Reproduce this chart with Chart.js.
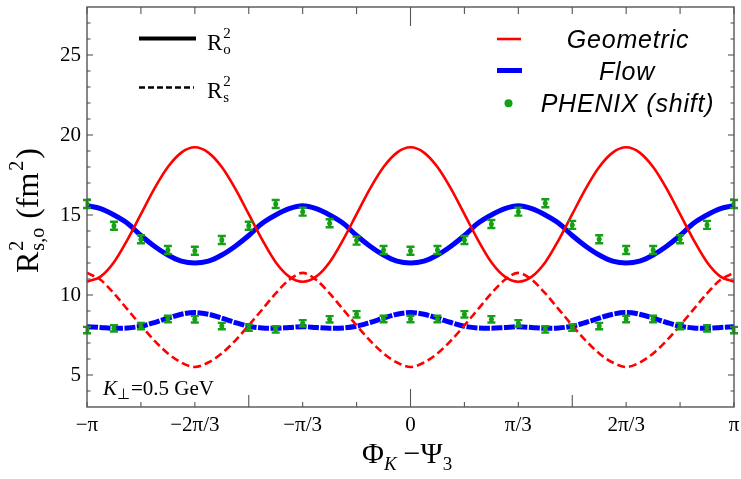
<!DOCTYPE html>
<html><head><meta charset="utf-8">
<script src="https://cdn.jsdelivr.net/npm/chart.js@4/dist/chart.umd.min.js"></script>
<style>html,body{margin:0;padding:0;background:#fff;}canvas{display:block;}</style>
</head><body>
<canvas id="c" width="741" height="479"></canvas>
<script>
// x values in units of pi
const phiTheory = [-1,-0.9583,-0.9167,-0.875,-0.8333,-0.7917,-0.75,-0.7083,-0.6667,-0.625,-0.5833,-0.5417,-0.5,-0.4583,-0.4167,-0.375,-0.3333,-0.2917,-0.25,-0.2083,-0.1667,-0.125,-0.0833,-0.0417,0,0.0417,0.0833,0.125,0.1667,0.2083,0.25,0.2917,0.3333,0.375,0.4167,0.4583,0.5,0.5417,0.5833,0.625,0.6667,0.7083,0.75,0.7917,0.8333,0.875,0.9167,0.9583,1];
const geoRo = [10.83,11.15,12.05,13.45,15.05,16.65,18.0,18.9,
  19.23,18.9,18.0,16.65,15.05,13.45,12.05,11.15,10.83,11.15,12.05,13.45,15.05,16.65,18.0,18.9,
  19.23,18.9,18.0,16.65,15.05,13.45,12.05,11.15,10.83,11.15,12.05,13.45,15.05,16.65,18.0,18.9,
  19.23,18.9,18.0,16.65,15.05,13.45,12.05,11.15,10.83];
const geoRs = [11.38,10.95,10.1,9.1,8.1,7.15,6.35,5.78,
  5.5,5.78,6.35,7.15,8.1,9.1,10.1,10.95,11.38,10.95,10.1,9.1,8.1,7.15,6.35,5.78,
  5.5,5.78,6.35,7.15,8.1,9.1,10.1,10.95,11.38,10.95,10.1,9.1,8.1,7.15,6.35,5.78,
  5.5,5.78,6.35,7.15,8.1,9.1,10.1,10.95,11.38];
const flowRo = [15.58,15.4,15.0,14.48,13.72,13.05,12.5,12.12,
  12.0,12.12,12.5,13.05,13.72,14.48,15.0,15.4,15.58,15.4,15.0,14.48,13.72,13.05,12.5,12.12,
  12.0,12.12,12.5,13.05,13.72,14.48,15.0,15.4,15.58,15.4,15.0,14.48,13.72,13.05,12.5,12.12,
  12.0,12.12,12.5,13.05,13.72,14.48,15.0,15.4,15.58];
const flowRs = [8.02,7.97,7.92,7.94,8.05,8.28,8.55,8.8,
  8.9,8.8,8.55,8.28,8.05,7.94,7.92,7.97,8.02,7.97,7.92,7.94,8.05,8.28,8.55,8.8,
  8.9,8.8,8.55,8.28,8.05,7.94,7.92,7.97,8.02,7.97,7.92,7.94,8.05,8.28,8.55,8.8,
  8.9,8.8,8.55,8.28,8.05,7.94,7.92,7.97,8.02];
const phiData = [-1,-0.9167,-0.8333,-0.75,-0.6667,-0.5833,-0.5,-0.4167,-0.3333,-0.25,-0.1667,-0.0833,0,0.0833,0.1667,0.25,0.3333,0.4167,0.5,0.5833,0.6667,0.75,0.8333,0.9167,1];
const phenixRo = [15.69,14.33,13.48,12.81,12.77,13.44,14.33,15.69,15.21,14.48,13.4,12.81,12.77,12.81,13.44,14.44,15.21,15.73,14.38,13.48,12.81,12.81,13.48,14.38,15.69];
const phenixRoErr = [0.25,0.25,0.25,0.25,0.25,0.25,0.25,0.25,0.25,0.25,0.25,0.25,0.25,0.25,0.25,0.25,0.25,0.25,0.25,0.25,0.25,0.25,0.25,0.25,0.25];
const phenixRs = [7.81,7.92,8.06,8.5,8.48,8.06,7.96,7.85,8.23,8.48,8.79,8.5,8.5,8.5,8.79,8.48,8.23,7.85,7.96,8.06,8.5,8.5,8.06,7.92,7.81];
const phenixRsErr = [0.2,0.2,0.2,0.2,0.2,0.2,0.2,0.2,0.2,0.2,0.2,0.2,0.2,0.2,0.2,0.2,0.2,0.2,0.2,0.2,0.2,0.2,0.2,0.2,0.2];
const xTickValues = [-1,-0.66667,-0.33333,0,0.33333,0.66667,1];
const xTickLabels = ['\u2212\u03C0','\u22122\u03C0/3','\u2212\u03C0/3','0','\u03C0/3','2\u03C0/3','\u03C0'];
const xMinorTicks = [-0.83333,-0.5,-0.16667,0.16667,0.5,0.83333];
const yTickValues = [5,10,15,20,25];
const yTickLabels = ['5','10','15','20','25'];
const yMinorTicks = [4,6,7,8,9,11,12,13,14,16,17,18,19,21,22,23,24,26,27];

const RED = '#ff0000', BLUE = '#0000ff', GREEN = '#15a015';
const pts = (xs, ys) => xs.map((x, i) => ({x, y: ys[i]}));

const serif = "'Liberation Serif', 'Times New Roman', serif";
const sans = "'Liberation Sans', Arial, sans-serif";

const frameTicks = {
  id: 'frameTicks',
  afterDraw(chart) {
    const {ctx, chartArea: a, scales: {x, y}} = chart;
    ctx.save();
    ctx.strokeStyle = '#555';
    ctx.lineWidth = 1.4;
    ctx.strokeRect(a.left, a.top, a.right - a.left, a.bottom - a.top);
    ctx.lineWidth = 1.1;
    const vt = (v, lenB, lenT) => {
      const px = x.getPixelForValue(v);
      ctx.beginPath(); ctx.moveTo(px, a.bottom); ctx.lineTo(px, a.bottom - lenB); ctx.stroke();
      ctx.beginPath(); ctx.moveTo(px, a.top); ctx.lineTo(px, a.top + lenT); ctx.stroke();
    };
    xTickValues.forEach(v => vt(v, Math.abs(v) < 1e-6 ? 18 : 5, Math.abs(v) < 1e-6 ? 19 : 7));
    xMinorTicks.forEach(v => vt(v, Math.abs(Math.abs(v) - 0.5) < 1e-6 ? 12 : 5, 7));
    const ht = (v, len) => {
      const py = y.getPixelForValue(v);
      ctx.beginPath(); ctx.moveTo(a.left, py); ctx.lineTo(a.left + len, py); ctx.stroke();
      ctx.beginPath(); ctx.moveTo(a.right, py); ctx.lineTo(a.right - len, py); ctx.stroke();
    };
    yTickValues.forEach(v => ht(v, 6));
    yMinorTicks.forEach(v => ht(v, 3.5));
    ctx.restore();
  }
};

const errorBars = {
  id: 'errorBars',
  afterDatasetsDraw(chart) {
    const {ctx, scales: {x, y}} = chart;
    ctx.save();
    ctx.strokeStyle = GREEN;
    chart.data.datasets.forEach(ds => {
      if (!ds.errors) return;
      ds.data.forEach((p, i) => {
        const px = x.getPixelForValue(p.x);
        const t = y.getPixelForValue(p.y + ds.errors[i]);
        const b = y.getPixelForValue(p.y - ds.errors[i]);
        ctx.lineWidth = 3;
        ctx.beginPath(); ctx.moveTo(px, t); ctx.lineTo(px, b); ctx.stroke();
        ctx.lineWidth = 2.4;
        ctx.beginPath(); ctx.moveTo(px - 4, t); ctx.lineTo(px + 4, t);
        ctx.moveTo(px - 4, b); ctx.lineTo(px + 4, b); ctx.stroke();
      });
    });
    ctx.restore();
  }
};

function rLabel(ctx, x, yb, sub) {
  ctx.font = '23px ' + serif;
  ctx.fillText('R', x, yb);
  const w = ctx.measureText('R').width;
  ctx.font = '15px ' + serif;
  ctx.fillText('2', x + w + 1, yb - 12);
  ctx.fillText(sub, x + w + 1, yb + 4);
}

const annotations = {
  id: 'annotations',
  afterDraw(chart) {
    const {ctx} = chart;
    ctx.save();
    ctx.fillStyle = '#000';
    ctx.textBaseline = 'alphabetic';
    ctx.textAlign = 'left';
    // left legend
    ctx.strokeStyle = '#000';
    ctx.lineWidth = 4;
    ctx.beginPath(); ctx.moveTo(139, 38.5); ctx.lineTo(196, 38.5); ctx.stroke();
    ctx.lineWidth = 2.5;
    ctx.setLineDash([6, 3]);
    ctx.beginPath(); ctx.moveTo(139, 87.5); ctx.lineTo(194, 87.5); ctx.stroke();
    ctx.setLineDash([]);
    rLabel(ctx, 207, 50, 'o');
    rLabel(ctx, 207, 98, 's');
    // right legend
    ctx.lineWidth = 2.6; ctx.strokeStyle = RED;
    ctx.beginPath(); ctx.moveTo(497, 39); ctx.lineTo(521, 39); ctx.stroke();
    ctx.lineWidth = 5; ctx.strokeStyle = BLUE;
    ctx.beginPath(); ctx.moveTo(497, 70.5); ctx.lineTo(522, 70.5); ctx.stroke();
    ctx.fillStyle = GREEN;
    ctx.beginPath(); ctx.arc(508.5, 103.3, 4, 0, Math.PI * 2); ctx.fill();
    ctx.fillStyle = '#000';
    ctx.textAlign = 'center';
    ctx.font = 'italic 25px ' + sans;
    ctx.letterSpacing = '0.8px';
    ctx.fillText('Geometric', 628, 48);
    ctx.fillText('Flow', 627, 80);
    ctx.fillText('PHENIX (shift)', 627.5, 112);
    ctx.letterSpacing = '0px';
    // K annotation
    ctx.textAlign = 'left';
    ctx.font = 'italic 21px ' + serif;
    ctx.fillText('K', 103, 395);
    let xx = 103 + ctx.measureText('K').width;
    ctx.font = '15px ' + serif;
    ctx.fillText('\u22A5', xx, 399);
    xx += ctx.measureText('\u22A5').width + 1;
    ctx.font = '21px ' + serif;
    ctx.fillText('=0.5 GeV', xx, 395);
    // x title
    ctx.font = '30px ' + serif;
    let tx = 362;
    ctx.fillText('\u03A6', tx, 463); tx += ctx.measureText('\u03A6').width;
    ctx.font = 'italic 19px ' + serif;
    ctx.fillText('K', tx, 470); tx += ctx.measureText('K').width + 7;
    ctx.font = '30px ' + serif;
    ctx.fillText('\u2212\u03A8', tx, 463); tx += ctx.measureText('\u2212\u03A8').width;
    ctx.font = '19px ' + serif;
    ctx.fillText('3', tx, 470);
    // y title rotated
    ctx.translate(38, 273);
    ctx.rotate(-Math.PI / 2);
    ctx.font = '32px ' + serif;
    let ty = 0;
    ctx.fillText('R', ty, 0); ty += ctx.measureText('R').width + 1;
    ctx.font = '20px ' + serif;
    ctx.fillText('2', ty, -15);
    ctx.fillText('s,o', ty, 6);
    ty += ctx.measureText('s,o').width + 9;
    ctx.font = '32px ' + serif;
    ctx.fillText('(fm', ty, 0); ty += ctx.measureText('(fm').width + 2;
    ctx.font = '20px ' + serif;
    ctx.fillText('2', ty, -15); ty += ctx.measureText('2').width + 2;
    ctx.font = '32px ' + serif;
    ctx.fillText(')', ty, 0);
    ctx.restore();
  }
};

new Chart(document.getElementById('c'), {
  type: 'line',
  data: {
    datasets: [
      {label: 'PHENIX Ro', data: pts(phiData, phenixRo), errors: phenixRoErr, showLine: false,
       pointRadius: 2.5, pointBackgroundColor: GREEN, pointBorderWidth: 0, order: 0},
      {label: 'PHENIX Rs', data: pts(phiData, phenixRs), errors: phenixRsErr, showLine: false,
       pointRadius: 2.5, pointBackgroundColor: GREEN, pointBorderWidth: 0, order: 0},
      {label: 'Geometric Ro', data: pts(phiTheory, geoRo), borderColor: RED, borderWidth: 2.6,
       pointRadius: 0, cubicInterpolationMode: 'monotone', order: 1},
      {label: 'Geometric Rs', data: pts(phiTheory, geoRs), borderColor: RED, borderWidth: 2.6,
       borderDash: [8, 4], pointRadius: 0, cubicInterpolationMode: 'monotone', order: 1},
      {label: 'Flow Ro', data: pts(phiTheory, flowRo), borderColor: BLUE, borderWidth: 5,
       pointRadius: 0, cubicInterpolationMode: 'monotone', order: 2},
      {label: 'Flow Rs', data: pts(phiTheory, flowRs), borderColor: BLUE, borderWidth: 5,
       borderDash: [11, 1.5], pointRadius: 0, cubicInterpolationMode: 'monotone', order: 2}
    ]
  },
  options: {
    responsive: false,
    animation: false,
    devicePixelRatio: 1,
    layout: {padding: {left: 60, right: 7, top: 7, bottom: 40}},
    plugins: {legend: {display: false}, tooltip: {enabled: false}},
    scales: {
      x: {
        type: 'linear', min: -1, max: 1,
        afterBuildTicks: s => { s.ticks = xTickValues.map(v => ({value: v})); },
        afterFit: s => { s.height = 32; s.paddingLeft = 0; s.paddingRight = 0; },
        grid: {display: false, drawTicks: false},
        border: {display: false},
        ticks: {
          autoSkip: false, maxRotation: 0, padding: 6, color: '#000',
          font: {family: serif, size: 21},
          callback: (v, i) => xTickLabels[i]
        }
      },
      y: {
        type: 'linear', min: 3, max: 28,
        afterBuildTicks: s => { s.ticks = yTickValues.map(v => ({value: v})); },
        afterFit: s => { s.width = 27; s.paddingTop = 0; s.paddingBottom = 0; },
        grid: {display: false, drawTicks: false},
        border: {display: false},
        ticks: {
          padding: 6, color: '#000',
          font: {family: serif, size: 21},
          callback: (v, i) => yTickLabels[i]
        }
      }
    }
  },
  plugins: [errorBars, frameTicks, annotations]
});
</script>
</body></html>
